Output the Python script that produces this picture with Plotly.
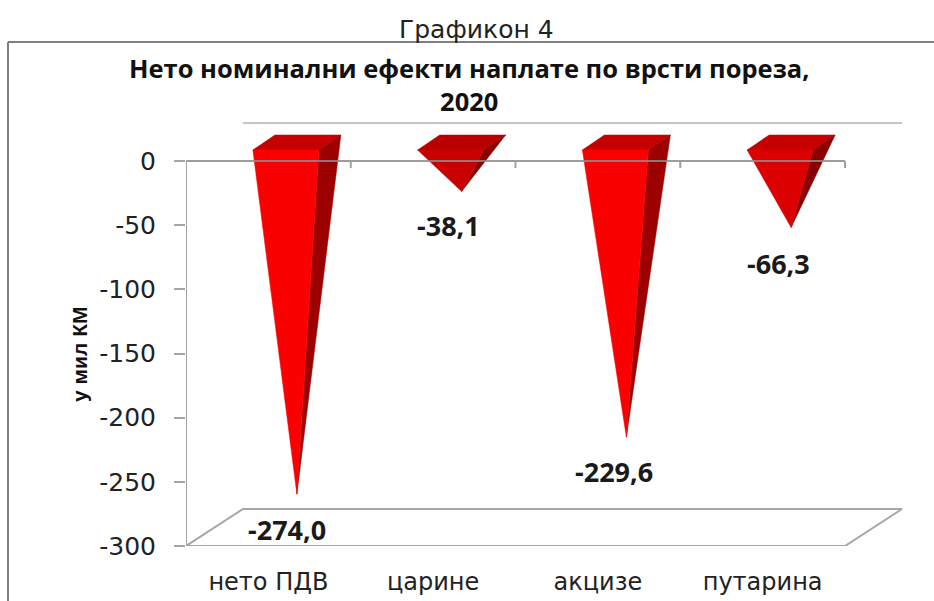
import plotly.graph_objects as go

categories = ["нето ПДВ", "царине", "акцизе", "путарина"]
values = [-274.0, -38.1, -229.6, -66.3]
value_labels = ["-274,0", "-38,1", "-229,6", "-66,3"]
y_ticks = [0, -50, -100, -150, -200, -250, -300]
y_tick_labels = ["0", "-50", "-100", "-150", "-200", "-250", "-300"]
front_colors = ["#fb0000", "#c80000", "#fb0000", "#dc0000"]
top_colors = ["#c40000", "#b80000", "#c40000", "#c40000"]
side_colors = ["#9c0000", "#8a0000", "#9c0000", "#8a0000"]
label_shifts = [(-10, -35), (-13, -34), (-12, -34), (-13, -36)]

W, H = 934, 601
ML, MB = 186, 55
PX_X = 164.75           # pixels per category
PX_Y = 385 / 300        # pixels per value unit
X0 = -0.5
X1 = X0 + (W - ML) / PX_X
Y0 = -300
Y1 = Y0 + (H - MB) / PX_Y

# 3-D projection, in axis units
DEPTH_X = 57 / PX_X     # floor depth
DEPTH_Y = 37 / PX_Y
HALF_W = 33 / PX_X      # half-width of the cone base
BAR_DX = 22 / PX_X      # cone base depth
BAR_DY = 15 / PX_Y
MIDX = DEPTH_X / 2
MIDY = DEPTH_Y / 2


def py(p):
    return Y0 + (H - MB - p) / PX_Y


def paper_x(p):
    return (p - ML) / (W - ML)


def paper_y(p):
    return (H - MB - p) / (H - MB)


fig = go.Figure()


def poly(xs, ys, color):
    fig.add_trace(go.Scatter(x=xs, y=ys, mode="lines", fill="toself", fillcolor=color,
                             line=dict(width=0.5, color=color), hoverinfo="skip", showlegend=False))


# floor
fig.add_trace(go.Scatter(
    x=[X0, 3.5, 3.5 + DEPTH_X, X0 + DEPTH_X, X0],
    y=[-300, -300, -300 + DEPTH_Y, -300 + DEPTH_Y, -300],
    mode="lines", line=dict(color="#a6a6a6", width=2), hoverinfo="skip", showlegend=False))

for i, v in enumerate(values):
    cx = i + MIDX
    cy = MIDY
    fl, fr = cx - HALF_W - BAR_DX / 2, cx + HALF_W - BAR_DX / 2
    bl, br = fl + BAR_DX, fr + BAR_DX
    yf, yb = cy - BAR_DY / 2, cy + BAR_DY / 2
    tip_y = cy + v
    poly([fl, fr, br, bl, fl], [yf, yf, yb, yb, yf], top_colors[i])
    poly([fr, br, cx, fr], [yf, yb, tip_y, yf], side_colors[i])
    poly([fl, fr, cx, fl], [yf, yf, tip_y, yf], front_colors[i])

# zero line with its ticks, over the cones
fig.add_trace(go.Scatter(x=[X0, 3.5], y=[0, 0], mode="lines",
                         line=dict(color="rgba(140,140,140,0.85)", width=2),
                         hoverinfo="skip", showlegend=False))
for k in range(1, 5):
    fig.add_trace(go.Scatter(x=[X0 + k, X0 + k], y=[0, -7 / PX_Y], mode="lines",
                             line=dict(color="#a0a0a0", width=2), hoverinfo="skip", showlegend=False))
# value axis line
fig.add_trace(go.Scatter(x=[X0, X0], y=[-300, 0], mode="lines",
                         line=dict(color="#a6a6a6", width=2), hoverinfo="skip", showlegend=False))
# back wall top line
fig.add_trace(go.Scatter(x=[X0 + DEPTH_X, 3.5 + DEPTH_X], y=[py(123), py(123)], mode="lines",
                         line=dict(color="#8c8c8c", width=1.2), hoverinfo="skip", showlegend=False))

annotations = []
for i, v in enumerate(values):
    annotations.append(dict(x=i + MIDX, y=MIDY + v, text="<b>%s</b>" % value_labels[i], showarrow=False,
                            xanchor="center", yanchor="middle",
                            xshift=label_shifts[i][0], yshift=label_shifts[i][1],
                            font=dict(family="Open Sans", size=27, color="#1a1a1a")))
annotations += [
    dict(xref="paper", yref="paper", x=paper_x(476), y=paper_y(29), text="Графикон 4", showarrow=False,
         xanchor="center", yanchor="middle",
         font=dict(family="DejaVu Sans", size=25, color="#222222")),
    dict(xref="paper", yref="paper", x=paper_x(469), y=paper_y(84),
         text="<b>Нето номинални ефекти наплате по врсти пореза,<br>2020</b>",
         showarrow=False, xanchor="center", yanchor="middle",
         font=dict(family="Open Sans", size=25.5, color="#111111")),
    dict(xref="paper", yref="paper", x=paper_x(79), y=paper_y(355), text="<b>у мил КМ</b>",
         showarrow=False, textangle=-90, xanchor="center", yanchor="middle",
         font=dict(family="Liberation Sans", size=21, color="#111111")),
]

shapes = [
    dict(type="line", xref="paper", yref="paper", x0=paper_x(8), x1=paper_x(934), y0=paper_y(42), y1=paper_y(42),
         line=dict(color="#7f7f7f", width=2)),
    dict(type="line", xref="paper", yref="paper", x0=paper_x(8), x1=paper_x(8), y0=paper_y(42), y1=paper_y(601),
         line=dict(color="#7f7f7f", width=2)),
]

fig.update_layout(
    width=W, height=H, margin=dict(l=ML, r=0, t=0, b=MB),
    paper_bgcolor="white", plot_bgcolor="white", showlegend=False,
    annotations=annotations, shapes=shapes,
    xaxis=dict(range=[X0, X1], tickvals=list(range(4)), ticktext=categories, showgrid=False,
               zeroline=False, showline=False, ticks="", ticklabelstandoff=19,
               tickfont=dict(family="DejaVu Sans", size=24, color="#222222")),
    yaxis=dict(range=[Y0, Y1], tickvals=y_ticks, ticktext=y_tick_labels, showgrid=False,
               zeroline=False, showline=False, ticks="outside", ticklen=11, tickwidth=2,
               tickcolor="#a6a6a6", ticklabelstandoff=13,
               tickfont=dict(family="DejaVu Sans", size=25, color="#222222")),
)
fig.write_html("out.html", config={"displayModeBar": False},
               post_script="document.body.style.margin='0';")
